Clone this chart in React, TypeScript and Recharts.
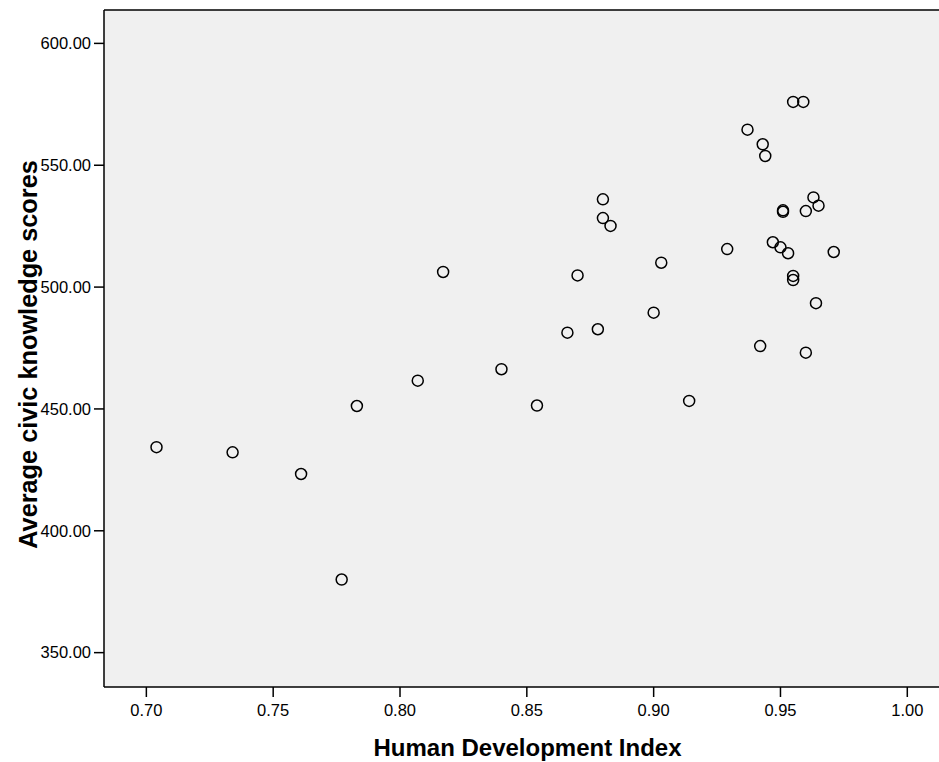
import React from "react";
import {
  ScatterChart,
  Scatter,
  XAxis,
  YAxis,
  CartesianGrid,
  ReferenceLine,
} from "recharts";

// Human Development Index vs average civic knowledge score, one point per country
const hdi = [
  0.704, 0.734, 0.761, 0.777, 0.783, 0.807, 0.817, 0.840, 0.854, 0.866,
  0.870, 0.878, 0.880, 0.880, 0.883, 0.900, 0.903, 0.914, 0.929, 0.937,
  0.942, 0.943, 0.944, 0.947, 0.950, 0.951, 0.951, 0.953, 0.955, 0.955,
  0.955, 0.959, 0.960, 0.960, 0.963, 0.964, 0.965, 0.971,
];
const civicScores = [
  434.3, 432.2, 423.3, 380.0, 451.2, 461.6, 506.2, 466.3, 451.4, 481.3,
  504.8, 482.7, 536.0, 528.3, 525.1, 489.5, 510.0, 453.3, 515.6, 564.6,
  475.8, 558.6, 553.8, 518.4, 516.3, 531.5, 530.9, 513.9, 576.0, 504.6,
  502.9, 576.0, 531.2, 473.1, 536.8, 493.4, 533.4, 514.4,
];
const xTicks = [0.7, 0.75, 0.8, 0.85, 0.9, 0.95, 1.0];
const yTicks = [350, 400, 450, 500, 550, 600];
const xDomain = [0.6833, 1.0125];
const yDomain = [335.9, 613.7];

const points = hdi.map((x, i) => ({ hdi: x, score: civicScores[i] }));

const FONT = '"Liberation Sans", Arial, sans-serif';
const tickStyle = { fontSize: 16.5, fill: "#000", fontFamily: FONT };

const OpenCircle = (props: any) => (
  <circle
    cx={props.cx}
    cy={props.cy}
    r={5.5}
    fill="none"
    stroke="#000"
    strokeWidth={1.5}
  />
);

const XTitle = (props: any) => {
  const vb = props.viewBox;
  return (
    <text
      x={vb.x + vb.width / 2 + 6}
      y={vb.y + vb.height - 6}
      textAnchor="middle"
      fontFamily={FONT}
      fontWeight="bold"
      fontSize={24}
      fill="#000"
    >
      Human Development Index
    </text>
  );
};

const YTitle = (props: any) => {
  const vb = props.viewBox;
  const x = vb.x + 36.5;
  const y = vb.y + vb.height / 2 + 6;
  return (
    <text
      x={x}
      y={y}
      transform={`rotate(-90, ${x}, ${y})`}
      textAnchor="middle"
      fontFamily={FONT}
      fontWeight="bold"
      fontSize={25.3}
      fill="#000"
    >
      Average civic knowledge scores
    </text>
  );
};

export default function App() {
  return (
    <div style={{ position: "absolute", left: 0, top: 0, background: "#fff" }}>
      <ScatterChart
        width={939}
        height={762}
        margin={{ top: 10, right: 0, bottom: 0, left: 0 }}
      >
        <CartesianGrid fill="#f0f0f0" horizontal={false} vertical={false} />
        <XAxis
          type="number"
          dataKey="hdi"
          domain={xDomain}
          ticks={xTicks}
          allowDataOverflow
          height={75}
          tickSize={10}
          tickMargin={7}
          tick={tickStyle}
          tickFormatter={(v: number) => v.toFixed(2)}
          axisLine={{ stroke: "#000", strokeWidth: 1.5 }}
          tickLine={{ stroke: "#000", strokeWidth: 1.5 }}
          label={<XTitle />}
        />
        <YAxis
          type="number"
          dataKey="score"
          domain={yDomain}
          ticks={yTicks}
          allowDataOverflow
          width={104}
          tickSize={10}
          tickMargin={3}
          tick={tickStyle}
          tickFormatter={(v: number) => v.toFixed(2)}
          axisLine={{ stroke: "#000", strokeWidth: 1.5 }}
          tickLine={{ stroke: "#000", strokeWidth: 1.5 }}
          label={<YTitle />}
        />
        <ReferenceLine y={yDomain[1]} stroke="#000" strokeWidth={1.5} />
        <Scatter
          data={points}
          shape={<OpenCircle />}
          isAnimationActive={false}
        />
      </ScatterChart>
    </div>
  );
}
